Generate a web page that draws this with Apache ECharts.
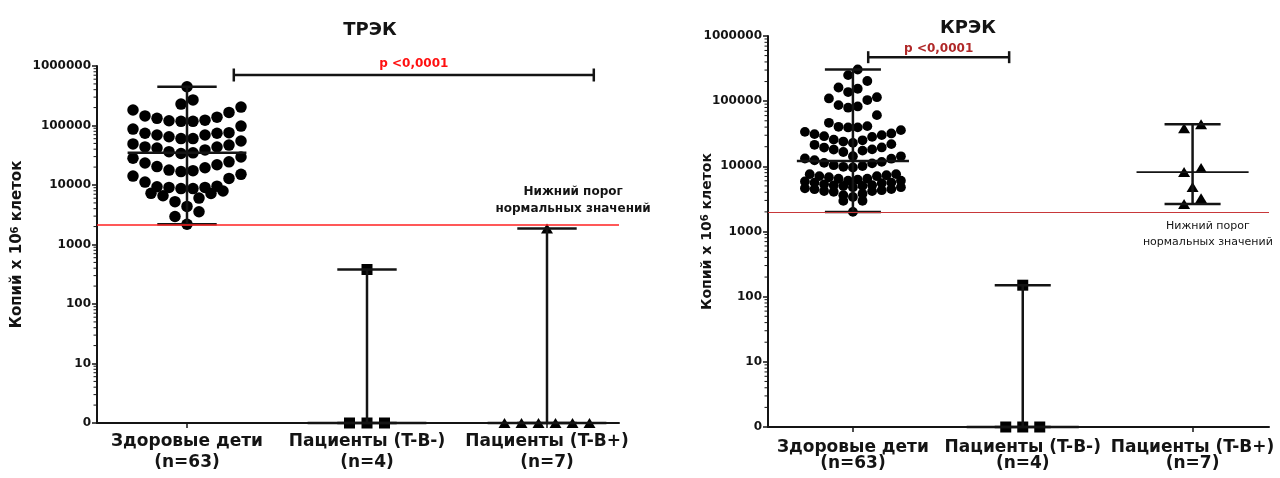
<!DOCTYPE html>
<html>
<head>
<meta charset="utf-8">
<script src="https://cdn.jsdelivr.net/npm/echarts@6/dist/echarts.min.js"></script>
<style>
  html, body { margin: 0; padding: 0; background: #fff; }
  #main { width: 1280px; height: 478px; }
</style>
</head>
<body>
<div id="main"></div>
<script>
var categories = ['Здоровые дети\n(n=63)', 'Пациенты (T-B-)\n(n=4)', 'Пациенты (T-B+)\n(n=7)'];
var yTicks = [1, 10, 100, 1000, 10000, 100000, 1000000];
var pLabel = 'p <0,0001';
var noteLabel = 'Нижний порог\nнормальных значений';

// ТРЭК, копий на 10^6 клеток
var trecHealthy = [
    447000, 269000, 229000,
    182000, 145000, 132000, 120000, 117500, 117500, 123000, 138000, 166000, 204000,
    97700, 74100, 74000, 69200, 60300, 60200, 64600, 69100, 75900, 87100,
    55000, 46800, 43700, 41700, 36300, 33900, 34700, 38900, 43600, 49000,
    29500, 24500, 21900, 19500, 17400, 16800, 17800, 20400, 23400, 28200,
    15100, 12900, 14100, 11200,
    9330, 9120, 8710, 8700, 9100, 9550,
    7240, 6610, 7230, 7940, 6030, 5250,
    4370, 3550, 2950, 2190
];
var trecTBneg = [0, 0, 0, 380];
var trecTBpos = [0, 0, 0, 0, 0, 0, 1850];
var trecThreshold = 2170;
var trecBracketLevel = 706000;

// КРЭК
var krecHealthy = [
    306000, 251000, 204000, 162000, 155000, 138000, 115000, 110000, 104000,
    87000, 83000, 79400, 61000, 46500,
    41400, 40400, 39500, 39600, 35900, 33800, 32000, 31200, 30100, 29000, 28300,
    25700, 25100, 24000, 22900, 21900, 21400, 19500, 19400, 18200, 18100, 17400, 16600,
    14300, 14250, 13200, 13100, 12400, 11700, 11300, 11100, 10400, 10100, 9840, 9620,
    7590, 7580, 7300, 7080, 7060, 6800, 6460, 6450, 6250, 6030, 6020, 5850, 5620, 5630, 5500,
    5300, 5130, 5120, 5010, 5000, 4790, 4780, 4600, 4470, 4460, 4300, 4170, 4160, 4070,
    3800, 3600, 3390, 2950, 2960,
    2000
];
var krecTBneg = [0, 0, 0, 150];
var krecTBpos = [2650, 3250, 4800, 8150, 9400, 38500, 44400];
var krecThreshold = 1950;
var krecBracketLevel = 473000;

var font = '"DejaVu Sans", Verdana, sans-serif';
var ink = '#141414';

function plotted(v) {
    return Math.max(v, 1);
}

function median(arr) {
    var s = arr.slice().sort(function (a, b) { return a - b; });
    var n = s.length;
    return n % 2 ? s[(n - 1) / 2] : (s[n / 2 - 1] + s[n / 2]) / 2;
}

// dot plot like GraphPad: close values share a row, smallest in the middle
function swarm(values, cat, rowH, rowMax, step) {
    var s = values.slice().sort(function (a, b) { return a - b; });
    var rows = [], row = null, start = 0;
    s.forEach(function (v) {
        var lv = Math.log10(plotted(v));
        if (!row || lv - start > rowH || row.length >= rowMax) {
            row = [];
            rows.push(row);
            start = lv;
        }
        row.push(v);
    });
    var out = [];
    rows.forEach(function (r) {
        var slots = [];
        for (var i = 0; i < r.length; i++) slots.push(i - (r.length - 1) / 2);
        slots.sort(function (a, b) { return Math.abs(a) - Math.abs(b) || a - b; });
        r.forEach(function (v, i) {
            out.push([cat + slots[i] * step, plotted(v)]);
        });
    });
    return out;
}

function rangeItem(values, cat) {
    return [cat,
        plotted(Math.min.apply(null, values)),
        plotted(median(values)),
        plotted(Math.max.apply(null, values))];
}

var minorTicks = [];
yTicks.slice(0, -1).forEach(function (t) {
    for (var k = 2; k < 10; k++) minorTicks.push(t * k);
});

var panels = [
    {
        title: 'ТРЭК', titleX: 365, titleTop: 16,
        grid: {left: 97, top: 66, width: 522, height: 357}, xMax: 2.4,
        groups: [trecHealthy, trecTBneg, trecTBpos],
        threshold: trecThreshold, redColor: '#ff2020', redWidth: 1.6,
        bracket: {from: 0.26, to: 2.26, level: trecBracketLevel, cap: 6.5, textGap: 5},
        pColor: '#ff1010', pSize: 12,
        note: {x: 2.145, dy: -7, above: true, size: 12, weight: 'bold', lineHeight: 17},
        dot: 11.5, gap: [12, 17.5, 17], rowH: 0.27, rowMax: 10,
        medWidth: [2.5, 2.5, 2.5],
        labelSize: 17, labelLH: 21, labelMargin: 8, tickSize: 12,
        nameGap: 72, nameSize: 15
    },
    {
        title: 'КРЭК', titleX: 963, titleTop: 14,
        grid: {left: 768, top: 36, width: 501, height: 391}, xMax: 2.45,
        groups: [krecHealthy, krecTBneg, krecTBpos],
        threshold: krecThreshold, redColor: '#c8383a', redWidth: 1.2,
        bracket: {from: 0.09, to: 0.92, level: krecBracketLevel, cap: 6, textGap: 2},
        pColor: '#b02828', pSize: 12,
        note: {x: 2.09, dy: 6, above: false, size: 11, weight: 'normal', lineHeight: 16},
        dot: 9.8, gap: [9.6, 17, 17], rowH: 0.2, rowMax: 11,
        medWidth: [2.5, 2.5, 1.6],
        labelSize: 17, labelLH: 16, labelMargin: 13, tickSize: 12,
        nameGap: 54, nameSize: 14
    }
];

var symbols = ['circle', 'rect', 'triangle'];

var option = {
    animation: false,
    backgroundColor: '#fff',
    title: [],
    grid: [],
    xAxis: [],
    yAxis: [],
    series: []
};

panels.forEach(function (p, gi) {
    var ppu = p.grid.width / (p.xMax + 0.5);

    option.title.push({
        text: p.title, left: p.titleX, top: p.titleTop, textAlign: 'center',
        textStyle: {fontFamily: font, fontSize: 18, fontWeight: 'bold', color: ink}
    });
    option.grid.push(p.grid);
    option.xAxis.push({
        type: 'value', gridIndex: gi, min: -0.5, max: p.xMax,
        splitLine: {show: false},
        axisLine: {show: true, onZero: false, lineStyle: {color: ink, width: 2}},
        axisTick: {show: true, customValues: [0, 1, 2], length: 5, lineStyle: {color: ink, width: 1.5}},
        axisLabel: {
            customValues: [0, 1, 2],
            formatter: function (v) { return categories[Math.round(v)]; },
            fontFamily: font, fontWeight: 'bold', fontSize: p.labelSize,
            lineHeight: p.labelLH, color: ink, margin: p.labelMargin
        }
    });
    option.yAxis.push({
        type: 'log', logBase: 10, gridIndex: gi, min: 1, max: 1000000, splitNumber: 6,
        name: '{a|Копий x 10}{b|6}{a| клеток}',
        nameLocation: 'middle', nameGap: p.nameGap, nameMoveOverlap: false,
        nameTextStyle: {
            rich: {
                a: {fontFamily: font, fontWeight: 'bold', fontSize: p.nameSize, color: ink},
                b: {fontFamily: font, fontWeight: 'bold', fontSize: 10, color: ink, verticalAlign: 'top'}
            }
        },
        splitLine: {show: false},
        axisLine: {show: true, onZero: false, lineStyle: {color: ink, width: 2}},
        axisTick: {show: true, length: 5, lineStyle: {color: ink, width: 1.5}},
        axisLabel: {
            formatter: function (v) { return v <= 1 ? '0' : String(v); },
            fontFamily: font, fontWeight: 'bold', fontSize: p.tickSize, color: ink, margin: 6
        }
    });

    // minor log ticks
    option.series.push({
        type: 'custom', xAxisIndex: gi, yAxisIndex: gi, silent: true, clip: false,
        data: minorTicks.map(function (v) { return [-0.5, v]; }),
        renderItem: function (params, api) {
            var pt = api.coord([api.value(0), api.value(1)]);
            return {type: 'line', shape: {x1: pt[0] - 3.5, y1: pt[1], x2: pt[0], y2: pt[1]},
                style: {stroke: ink, lineWidth: 1}};
        }
    });

    // dots
    p.groups.forEach(function (vals, ci) {
        var isTri = symbols[ci] === 'triangle';
        var s = {
            type: 'scatter', xAxisIndex: gi, yAxisIndex: gi, clip: false, z: 3,
            symbol: symbols[ci],
            symbolSize: ci === 0 ? p.dot : (isTri ? [12, 10] : 11),
            itemStyle: {color: '#000', opacity: 1},
            data: swarm(vals, ci, p.rowH, p.rowMax, p.gap[ci] / ppu)
        };
        if (ci === 0) {
            s.markLine = {
                silent: true, symbol: 'none', label: {show: false},
                lineStyle: {color: p.redColor, width: p.redWidth, type: 'solid'},
                data: [{yAxis: p.threshold}]
            };
        }
        option.series.push(s);
    });

    // median with range
    option.series.push({
        type: 'custom', xAxisIndex: gi, yAxisIndex: gi, silent: true, clip: false, z: 4,
        data: p.groups.map(function (vals, ci) { return rangeItem(vals, ci); }),
        renderItem: function (params, api) {
            var x = api.value(0);
            var lo = api.coord([x, api.value(1)]);
            var md = api.coord([x, api.value(2)]);
            var hi = api.coord([x, api.value(3)]);
            var cap = 0.165 * ppu, half = 0.33 * ppu;
            var st = {stroke: ink, lineWidth: 2.5};
            return {type: 'group', children: [
                {type: 'line', shape: {x1: lo[0], y1: lo[1], x2: hi[0], y2: hi[1]}, style: st},
                {type: 'line', shape: {x1: hi[0] - cap, y1: hi[1], x2: hi[0] + cap, y2: hi[1]}, style: st},
                {type: 'line', shape: {x1: lo[0] - cap, y1: lo[1], x2: lo[0] + cap, y2: lo[1]}, style: st},
                {type: 'line', shape: {x1: md[0] - half, y1: md[1], x2: md[0] + half, y2: md[1]},
                    style: {stroke: ink, lineWidth: p.medWidth[params.dataIndex]}}
            ]};
        }
    });

    // significance bracket and threshold note
    option.series.push({
        type: 'custom', xAxisIndex: gi, yAxisIndex: gi, silent: true, clip: false, z: 5,
        data: [[0, p.threshold]],
        renderItem: function (params, api) {
            var b = p.bracket;
            var a0 = api.coord([b.from, b.level]);
            var a1 = api.coord([b.to, b.level]);
            var st = {stroke: ink, lineWidth: 2.5};
            var n = api.coord([p.note.x, api.value(1)]);
            return {type: 'group', children: [
                {type: 'line', shape: {x1: a0[0], y1: a0[1], x2: a1[0], y2: a1[1]}, style: st},
                {type: 'line', shape: {x1: a0[0], y1: a0[1] - b.cap, x2: a0[0], y2: a0[1] + b.cap}, style: st},
                {type: 'line', shape: {x1: a1[0], y1: a1[1] - b.cap, x2: a1[0], y2: a1[1] + b.cap}, style: st},
                {type: 'text', x: (a0[0] + a1[0]) / 2, y: a0[1] - b.textGap,
                    style: {text: pLabel, fill: p.pColor, fontFamily: font, fontWeight: 'bold',
                        fontSize: p.pSize, align: 'center', verticalAlign: 'bottom'}},
                {type: 'text', x: n[0], y: n[1] + p.note.dy,
                    style: {text: noteLabel, fill: ink, fontFamily: font, fontSize: p.note.size,
                        fontWeight: p.note.weight, lineHeight: p.note.lineHeight,
                        align: 'center', verticalAlign: p.note.above ? 'bottom' : 'top'}}
            ]};
        }
    });
});

var chart = echarts.init(document.getElementById('main'));
chart.setOption(option);
</script>
</body>
</html>
